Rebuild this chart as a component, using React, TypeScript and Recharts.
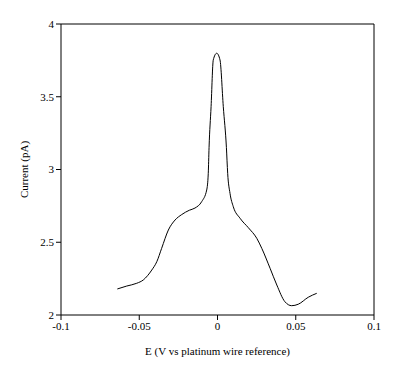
import React from "react";
import { LineChart, Line, XAxis, YAxis, ReferenceLine } from "recharts";

const potential = [
  -0.064, -0.058, -0.0516, -0.0474, -0.042, -0.0388, -0.0357, -0.0314, -0.0271, -0.0229,
  -0.018, -0.0144, -0.0101, -0.0069, -0.0059, -0.0054, -0.0041, -0.0027, -0.0005, 0.0016,
  0.0037, 0.0057, 0.0065, 0.008, 0.0101, 0.0144, 0.0197, 0.0251, 0.0283, 0.0336,
  0.0379, 0.0431, 0.0474, 0.0516, 0.058, 0.0634,
];
const current = [
  2.179, 2.199, 2.218, 2.241, 2.309, 2.366, 2.458, 2.584, 2.653, 2.69,
  2.72, 2.735, 2.779, 2.859, 2.974, 3.15, 3.432, 3.753, 3.799, 3.753,
  3.432, 3.15, 2.974, 2.836, 2.744, 2.665, 2.6, 2.527, 2.458, 2.321,
  2.206, 2.091, 2.064, 2.074, 2.122, 2.149,
];
const xTicks = [-0.1, -0.05, 0, 0.05, 0.1];
const yTicks = [2, 2.5, 3, 3.5, 4];

const data = potential.map((e, i) => ({ e, i: current[i] }));

const font = "'Liberation Serif', 'Times New Roman', serif";

export default function App() {
  return (
    <div style={{ position: "absolute", left: 0, top: 0, background: "#fff" }}>
      <LineChart
        width={402}
        height={368}
        data={data}
        margin={{ top: 24, right: 28, bottom: 13, left: 0 }}
      >
        <XAxis
          dataKey="e"
          type="number"
          domain={[-0.1, 0.1]}
          ticks={xTicks}
          tickFormatter={(v: number) => String(v)}
          stroke="#000"
          tickSize={5}
          tickLine={{ stroke: "#000" }}
          tick={{ fill: "#000", fontSize: 11, fontFamily: font }}
          height={40}
          label={{
            value: "E (V vs platinum wire reference)",
            position: "insideBottom",
            offset: 0,
            fill: "#000",
            fontSize: 11,
            fontFamily: font,
          }}
        />
        <YAxis
          type="number"
          domain={[2, 4]}
          ticks={yTicks}
          tickFormatter={(v: number) => String(v)}
          stroke="#000"
          tickSize={5}
          tickLine={{ stroke: "#000" }}
          tick={{ fill: "#000", fontSize: 11, fontFamily: font }}
          width={61}
          label={{
            value: "Current (pA)",
            angle: -90,
            position: "insideLeft",
            offset: 24,
            style: { textAnchor: "middle" },
            fill: "#000",
            fontSize: 11,
            fontFamily: font,
          }}
        />
        <ReferenceLine y={4} stroke="#000" />
        <ReferenceLine x={0.1} stroke="#000" />
        <Line
          type="monotone"
          dataKey="i"
          stroke="#000"
          strokeWidth={1}
          dot={false}
          isAnimationActive={false}
        />
      </LineChart>
    </div>
  );
}
